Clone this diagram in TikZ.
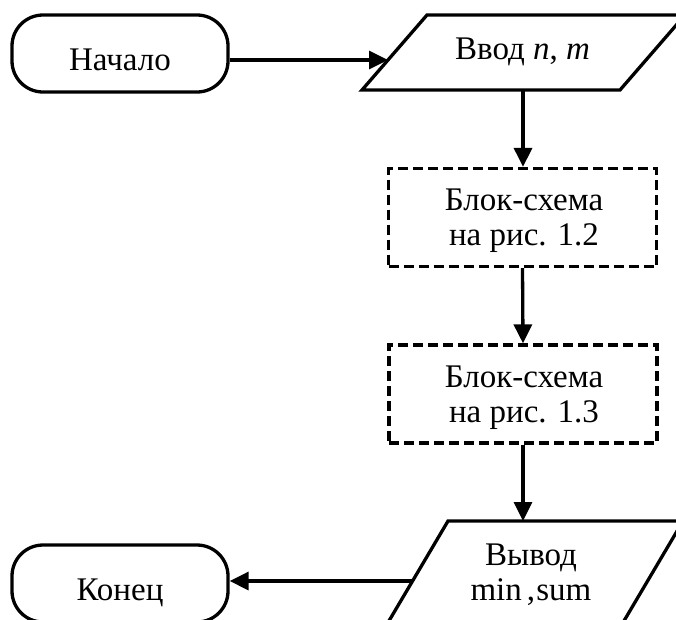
\documentclass[tikz,border=0pt]{standalone}
\usepackage{fontspec}
\setmainfont{Liberation Serif}
\usetikzlibrary{arrows.meta}
\begin{document}
\begin{tikzpicture}[x=1pt,y=-1pt,
  every node/.style={font=\fontsize{33}{35}\selectfont, inner sep=0pt},
  shp/.style={draw=black, line width=3.3pt, line join=miter},
  term/.style={shp, rounded corners=31pt, minimum width=216pt, minimum height=77pt, text height=33pt, text depth=0pt},
  dbox/.style={draw=black, line width=3.3pt, dash pattern=on 10pt off 5pt, minimum width=268pt, minimum height=98pt},
  arr/.style={line width=3.3pt, -{Triangle[length=19pt,width=18pt]}}]
\useasboundingbox (0,0) rectangle (676,619);
\clip (0,0) rectangle (676,619);
% terminals
\node[term] (start) at (120,53.5) {Начало};
\node[term] (end) at (120,583.5) {Конец};
% input parallelogram
\draw[shp] (427,15) -- (685,15) -- (620,90) -- (362,90) -- cycle;
\node (in) at (522.5,52) {Ввод \textit{n}, \textit{m}};
\coordinate (inleft) at (388,60);
\coordinate (inbot) at (523,90);
% dashed blocks
\node[dbox] (b1) at (522.5,217.5) {};
\node[align=center] (t1) at (524,221) {Блок-схема\\на рис. 1.2};
\node[dbox] (b2) at (523,394) {};
\node[align=center] (t2) at (524,397.5) {Блок-схема\\на рис. 1.3};
% output parallelogram
\draw[shp] (448,521) -- (683,521) -- (618,631) -- (383,631) -- cycle;
\node[align=center] (out) at (531,575) {Вывод\\min\hspace{0.15em},\hspace{0.04em}sum};
\coordinate (outtop) at (523,521);
\coordinate (outleft) at (412.6,581);
% connectors
\draw[arr] (start.east |- inleft) -- (inleft);
\draw[arr] (inbot) -- (inbot |- b1.north);
\draw[arr] (b1.south) -- (b2.north);
\draw[arr] (b2.south) -- (outtop);
\draw[arr] (outleft) -- (end.east |- outleft);
\end{tikzpicture}
\end{document}
